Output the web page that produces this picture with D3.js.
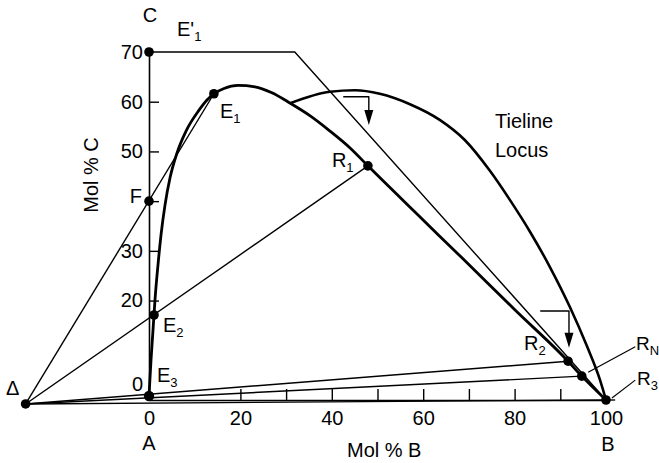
<!DOCTYPE html>
<html>
<head>
<meta charset="utf-8">
<script src="https://cdn.jsdelivr.net/npm/d3@7"></script>
<style>
  html, body { margin: 0; padding: 0; background: #fff; }
  svg { display: block; }
  text { font-family: "Liberation Sans", Arial, Helvetica, sans-serif; fill: #000; }
</style>
</head>
<body>
<svg id="chart" width="659" height="463"></svg>
<script>
// ---------- data (Mol % B, Mol % C) ----------
const binodalB = [0, 0.44, 0.88, 1.31, 1.97, 2.63, 3.50, 4.60, 6.13, 8.10, 10.94, 12.69, 14.2, 16.41, 19.47, 23.2, 26.9, 30.9, 35.2, 39.6, 44.0, 47.9, 58.2, 68.7, 80.1, 91.7, 94.7, 100];
const binodalC = [0.8, 8.0, 14.1, 20.1, 27.2, 33.2, 39.2, 44.7, 49.7, 54.1, 58.3, 60.35, 61.6, 62.66, 63.27, 63.0, 61.8, 59.7, 57.2, 54.1, 50.7, 47.1, 37.8, 28.4, 18.1, 7.8, 4.8, 0];

const locusB = [30.9, 39.6, 45.1, 50.5, 57.1, 63.7, 69.1, 74.6, 79.0, 83.4, 87.7, 92.1, 95.8, 98.7, 100];
const locusC = [59.7, 62.0, 62.3, 61.6, 59.5, 56.3, 52.3, 46.1, 40.2, 33.8, 26.8, 18.7, 10.9, 4.0, 0];

const pointNames = ["Δ", "E'1", "F", "E1", "E2", "E3", "R1", "R2", "RN", "B"];
const pointB = [-27, 0, 0, 14.2, 1.1, 0, 47.9, 91.7, 94.7, 100];
const pointC = [-0.8, 70, 40, 61.6, 17.1, 0.8, 47.1, 7.8, 4.8, 0];

// operating lines from the difference point Δ
const deltaTargets = ["E1", "R1", "R2", "RN", "B"];
// E'1 construction line
const extractLineB = [0, 31.9, 100];
const extractLineC = [70, 70, 0];
// bent arrows (start, corner, tip)
const arrow1B = [42.5, 48.1, 48.1];
const arrow1C = [61.0, 61.0, 55.3];
const arrow2B = [85.6, 91.9, 91.9];
const arrow2C = [17.9, 17.9, 10.5];
// leader lines for labels
const leaderRNB = [96.1, 106.4];
const leaderRNC = [5.6, 10.7];
const leaderR3B = [101.3, 106.4];
const leaderR3C = [0.4, 4.0];

const xTickValues = [0, 20, 30, 40, 50, 60, 70, 80, 90, 100];
const xTickLabels = ["0", "20", "", "40", "", "60", "", "80", "", "100"];
const yTickValues = [0, 20, 30, 40, 50, 60, 70];
const yTickLabels = ["0", "20", "30", "", "50", "60", "70"];

// ---------- scales ----------
const svg = d3.select("#chart");
const x = d3.scaleLinear().domain([0, 100]).range([149, 606]);
const y = d3.scaleLinear().domain([0, 70]).range([400, 52]);

const P = {};
pointNames.forEach((n, i) => P[n] = [pointB[i], pointC[i]]);

const line = d3.line().x(d => x(d[0])).y(d => y(d[1]));
const curve = d3.line().x(d => x(d[0])).y(d => y(d[1])).curve(d3.curveMonotoneX);
const zip = (a, b) => a.map((v, i) => [v, b[i]]);

// ---------- axes ----------
const xAxis = d3.axisBottom(x)
  .tickValues(xTickValues)
  .tickFormat((d, i) => xTickLabels[i])
  .tickSizeInner(-11).tickSizeOuter(0).tickPadding(11);
const gx = svg.append("g").attr("transform", `translate(0,${y(0)})`).call(xAxis);
gx.selectAll(".tick line").attr("stroke", "#000").attr("stroke-width", 1.4)
  .filter(d => d === 0 || d === 100).remove();
gx.select(".domain").attr("stroke", "#000").attr("stroke-width", 1.6);
gx.selectAll("text").style("font-size", "20px").attr("fill", "#000");

const yAxis = d3.axisLeft(y)
  .tickValues(yTickValues)
  .tickFormat((d, i) => yTickLabels[i])
  .tickSizeInner(-10).tickSizeOuter(0).tickPadding(6);
const gy = svg.append("g").attr("transform", `translate(${x(0)},0)`).call(yAxis);
gy.selectAll(".tick line").attr("stroke", "#000").attr("stroke-width", 1.4)
  .filter(d => d === 0 || d === 70).remove();
gy.select(".domain").attr("stroke", "#000").attr("stroke-width", 1.6);
gy.selectAll("text").style("font-size", "20px").attr("fill", "#000");
gy.selectAll(".tick").filter(d => d === 0).select("text").attr("dy", "-0.5em");

// ---------- lines ----------
function drawPath(d, gen, sw) {
  return svg.append("path").attr("d", gen(d)).attr("stroke", "#000")
    .attr("stroke-width", sw).attr("fill", "none").attr("stroke-linejoin", "round");
}

// small extension of the base line beyond B
drawPath([[100, 0], [102, 0]], line, 1.4);
deltaTargets.forEach(t => drawPath([P["Δ"], P[t]], line, 1.4));
drawPath(zip(extractLineB, extractLineC), line, 1.4);
drawPath(zip(leaderRNB, leaderRNC), line, 1.2);
drawPath(zip(leaderR3B, leaderR3C), line, 1.2);

drawPath(zip(binodalB, binodalC), curve, 2.8);
drawPath(zip(locusB, locusC), curve, 2.6);

// arrows
function drawArrow(bs, cs) {
  const pts = zip(bs, cs);
  const tip = pts[pts.length - 1];
  const tx = x(tip[0]), ty = y(tip[1]);
  const shaft = pts.slice(0, -1).concat([[tip[0], y.invert(ty - 10)]]);
  drawPath(shaft, line, 1.4);
  svg.append("path")
    .attr("d", `M${tx},${ty} L${tx - 4.5},${ty - 15} L${tx + 4.5},${ty - 15} Z`)
    .attr("fill", "#000");
}
drawArrow(arrow1B, arrow1C);
drawArrow(arrow2B, arrow2C);

// ---------- points ----------
pointNames.forEach(n => {
  svg.append("circle").attr("cx", x(P[n][0])).attr("cy", y(P[n][1]))
    .attr("r", n === "E3" ? 5.2 : 4.8).attr("fill", "#000");
});

// ---------- labels ----------
function label(px, py, main, sub, anchor, size) {
  const t = svg.append("text").attr("x", px).attr("y", py)
    .attr("text-anchor", anchor || "start").style("font-size", (size || 20) + "px");
  t.append("tspan").text(main);
  if (sub) t.append("tspan").attr("dy", 5).style("font-size", "13px").text(sub);
  return t;
}
label(x(0) + 1, 22, "C", null, "middle");
label(x(0) + 28, 36, "E'", "1");
label(x(P["E1"][0]) + 6, y(P["E1"][1]) + 24, "E", "1");
label(x(0) - 7, y(40) + 2, "F", null, "end");
label(x(P["E2"][0]) + 9, y(P["E2"][1]) + 17, "E", "2");
label(x(0) + 8, y(P["E3"][1]) - 14, "E", "3");
label(6, y(P["Δ"][1]) - 9, "Δ");
label(x(0), 450, "A", null, "middle");
label(x(100) + 2, 451, "B", null, "middle");
label(347, 457, "Mol % B");
svg.append("text").attr("transform", "translate(98,175) rotate(-90)")
  .attr("text-anchor", "middle").style("font-size", "20px").text("Mol % C");
label(x(P["R1"][0]) - 36, y(P["R1"][1]) + 1, "R", "1");
label(x(P["R2"][0]) - 44, y(P["R2"][1]) - 11, "R", "2");
label(636, 350, "R", "N", "start", 19);
label(637, 385, "R", "3", "start", 19);
label(495, 128, "Tieline");
label(495, 157, "Locus");
</script>
</body>
</html>
